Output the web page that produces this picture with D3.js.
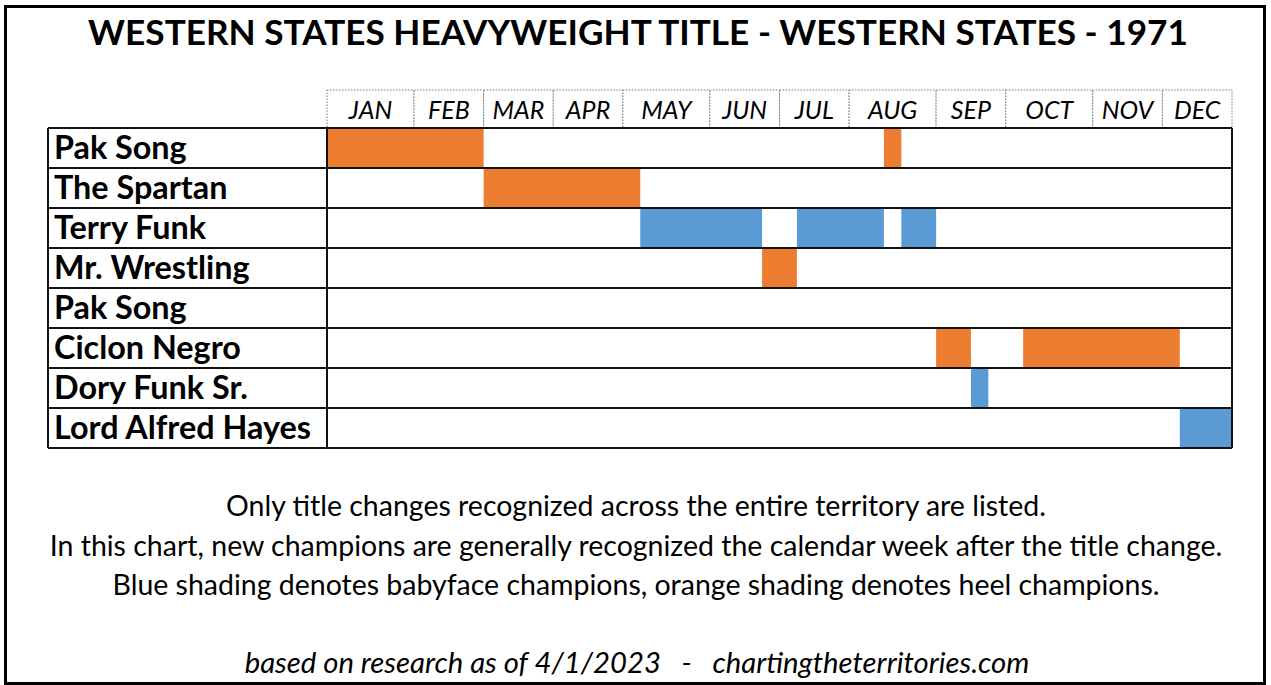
<!DOCTYPE html>
<html>
<head>
<meta charset="utf-8">
<script src="https://cdn.jsdelivr.net/npm/d3@7"></script>
<style>
html,body{margin:0;padding:0;background:#fff;}
svg{display:block;}
text{font-family:Lato,"Open Sans","DejaVu Sans",sans-serif;fill:#000;}
</style>
</head>
<body>
<svg id="chart" width="1271" height="685"></svg>
<script>
const title = "WESTERN STATES HEAVYWEIGHT TITLE - WESTERN STATES - 1971";
const months = ["JAN","FEB","MAR","APR","MAY","JUN","JUL","AUG","SEP","OCT","NOV","DEC"];
const weeksPerMonth = [5,4,4,4,5,4,4,5,4,5,4,4];
const champions = ["Pak Song","The Spartan","Terry Funk","Mr. Wrestling","Pak Song","Ciclon Negro","Dory Funk Sr.","Lord Alfred Hayes"];
// reigns: row index, start week, end week, type
const reignRow   = [0, 0, 1, 2, 2, 2, 3, 5, 5, 6, 7];
const reignStart = [0, 32, 9, 18, 27, 33, 25, 35, 40, 37, 49];
const reignEnd   = [9, 33, 18, 25, 32, 35, 27, 37, 49, 38, 52];
const reignType  = ["heel","heel","heel","face","face","face","heel","heel","heel","face","face"];
const notes = [
  "Only title changes recognized across the entire territory are listed.",
  "In this chart, new champions are generally recognized the calendar week after the title change.",
  "Blue shading denotes babyface champions, orange shading denotes heel champions."
];
const credit = "based on research as of 4/1/2023   -   chartingtheterritories.com";

const svg = d3.select("#chart");
const colors = {heel:"#ED7D31", face:"#5B9BD5"};

// outer frame
svg.append("rect").attr("x",5.5).attr("y",6.5).attr("width",1259).attr("height",677)
  .attr("fill","#fff").attr("stroke","#000").attr("stroke-width",3);

function fit(sel, target){
  sel.attr("font-size",100);
  const w = sel.node().getComputedTextLength();
  const fs = 100*target/w;
  sel.attr("font-size",fs);
  return fs;
}

// title
const t = svg.append("text").attr("x",638).attr("y",45).attr("text-anchor","middle")
  .attr("font-weight","bold").text(title);
fit(t, 1100);

const totalWeeks = d3.sum(weeksPerMonth);
const x = d3.scaleLinear().domain([0,totalWeeks]).range([327,1232]);
const y = d3.scaleBand().domain(d3.range(champions.length)).range([128,448]);
const nameLeft = 48;

// header
const monthStarts = d3.cumsum([0].concat(weeksPerMonth)).slice(0,12);
const hdr = svg.append("g");
hdr.selectAll("rect").data(months).join("rect")
  .attr("x",(d,i)=>x(monthStarts[i]))
  .attr("y",90).attr("width",(d,i)=>x(monthStarts[i]+weeksPerMonth[i])-x(monthStarts[i]))
  .attr("height",38).attr("fill","#fff").attr("stroke","#777").attr("stroke-width",1)
  .attr("stroke-dasharray","1.5,1.5");
hdr.selectAll("text").data(months).join("text")
  .attr("x",(d,i)=>(x(monthStarts[i])+x(monthStarts[i]+weeksPerMonth[i]))/2)
  .attr("y",119).attr("text-anchor","middle").attr("font-style","italic")
  .attr("font-size",25).text(d=>d);

// bars
const reigns = reignRow.map((r,i)=>({row:r,s:reignStart[i],e:reignEnd[i],type:reignType[i]}));
svg.append("g").selectAll("rect").data(reigns).join("rect")
  .attr("x",d=>x(d.s)).attr("width",d=>x(d.e)-x(d.s))
  .attr("y",d=>y(d.row)).attr("height",y.bandwidth())
  .attr("fill",d=>colors[d.type]);

// grid lines
const bottom = y(champions.length-1)+y.bandwidth();
const grid = svg.append("g").attr("stroke","#111").attr("stroke-width",2);
grid.selectAll("line.h").data(d3.range(champions.length+1)).join("line").attr("class","h")
  .attr("x1",nameLeft).attr("x2",x(totalWeeks))
  .attr("y1",d=>d<champions.length? y(d): bottom)
  .attr("y2",d=>d<champions.length? y(d): bottom);
[nameLeft, x(0), x(totalWeeks)].forEach(xx=>{
  grid.append("line").attr("x1",xx).attr("x2",xx).attr("y1",y(0)).attr("y2",bottom);
});

// names
const names = svg.append("g").selectAll("text").data(champions).join("text")
  .attr("x",54).attr("y",(d,i)=>y(i)+31).attr("font-weight","bold").text(d=>d);
names.attr("font-size",100);
const maxW = d3.max(names.nodes(), n=>n.getComputedTextLength());
names.attr("font-size",100*257/maxW);

// notes
const noteSel = svg.append("g").selectAll("text").data(notes).join("text")
  .attr("x",636).attr("y",(d,i)=>516+i*39.5).attr("text-anchor","middle").text(d=>d);
noteSel.attr("font-size",100);
const nW = d3.max(noteSel.nodes(), n=>n.getComputedTextLength());
noteSel.attr("font-size",100*1173/nW);

const c = svg.append("text").attr("x",637).attr("y",673).attr("text-anchor","middle")
  .attr("font-style","italic").attr("xml:space","preserve").style("white-space","pre").text(credit);
fit(c, 785);
</script>
</body>
</html>
